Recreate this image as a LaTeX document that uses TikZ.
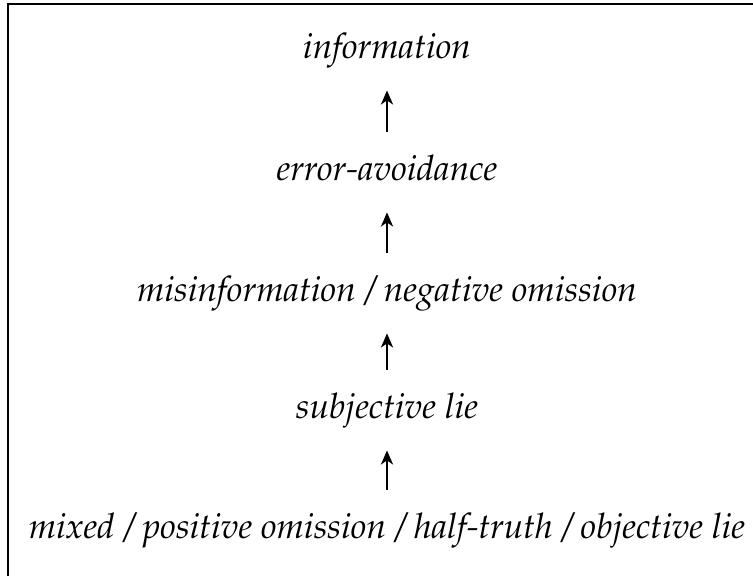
\documentclass[tikz,border=0pt]{standalone}
\usepackage[T1]{fontenc}
\usepackage{mathpazo}
\usepackage{tikz}
\usetikzlibrary{calc, arrows.meta, positioning}
\tikzset{
    textnode/.style  = {draw=none, fill=none, rectangle, minimum size=0cm, inner sep = 0em,
      text height=1.6ex, text depth=0.5ex, node distance=0em, font=\itshape\fontsize{10.55}{12}\selectfont},
    connect/.style = {black, line width=0.85pt, ->, >={Stealth[length=4.2pt, width=3.6pt, inset=1.2pt]},
      shorten >=7pt, shorten <=7pt},
    every text node part/.style={align=center}
}

\begin{document}
\begin{tikzpicture}[x=0.3pt, y=-0.3pt]
\useasboundingbox (0,0) rectangle (753,576);
\draw[line width=0.6pt] (8,576) -- (8,4) -- (753,4);

\node[textnode, name=info] at (387,50) {information};
\node[textnode, name=err, below of = info, yshift=-36.6pt] {error-avoidance};
\node[textnode, name=misinfo, below of = err, yshift=-36.3pt] {misinformation / negative omission};
\node[textnode, name=subj, below of = misinfo, yshift=-35.1pt] {subjective lie};
\node[textnode, name=mixed, below of = subj, yshift=-36pt] {mixed / positive omission / half-truth / objective lie};

\draw (err) edge[connect] (info);
\draw (misinfo) edge[connect] (err);
\draw (subj) edge[connect] (misinfo);
\draw (mixed) edge[connect] (subj);
\end{tikzpicture}
\end{document}
